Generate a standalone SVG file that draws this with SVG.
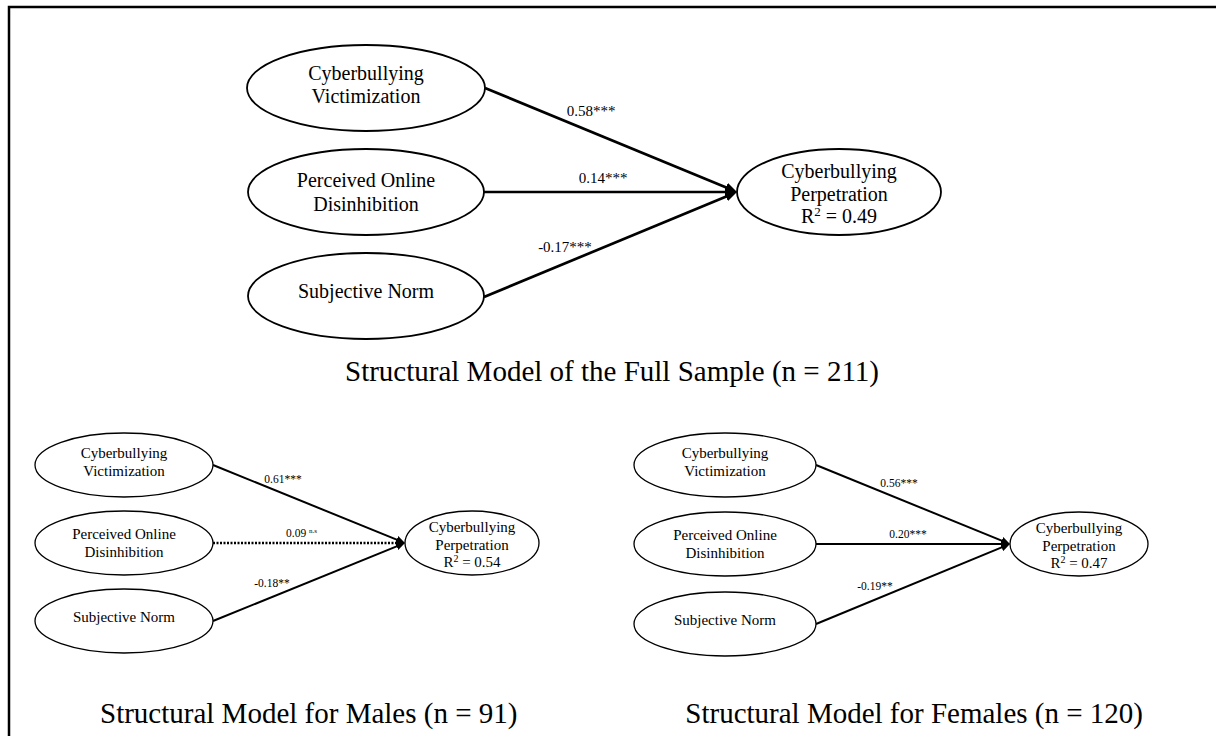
<svg xmlns="http://www.w3.org/2000/svg" width="1216" height="736" viewBox="0 0 1216 736">
<style>
text{font-family:"Liberation Serif","Times New Roman",serif;fill:#000;text-anchor:middle}
.big{fill:#fff;stroke:#000;stroke-width:1.8}
.small{fill:#fff;stroke:#000;stroke-width:1.3}
.t20{font-size:20px}
.t15{font-size:15px}
.e15{font-size:15px}
.e11{font-size:11.5px}
.cap{font-size:29px}
.lb{stroke:#000;stroke-width:2.7;fill:none}
.ls{stroke:#000;stroke-width:2;fill:none}
.dot{stroke-dasharray:2 1.5;stroke-width:2.4}
</style>
<defs>
<marker id="ab" markerUnits="userSpaceOnUse" markerWidth="12" markerHeight="10" refX="3" refY="5" orient="auto"><path d="M0,0 L12,5 L0,10 z" fill="#000"/></marker>
<marker id="as" markerUnits="userSpaceOnUse" markerWidth="9" markerHeight="8" refX="2" refY="4" orient="auto"><path d="M0,0 L9,4 L0,8 z" fill="#000"/></marker>
</defs>
<rect width="1216" height="736" fill="#fff"/>
<path d="M9,736 V7 H1216" fill="none" stroke="#000" stroke-width="2.5"/>

<g id="connectors">
<line class="lb" x1="485" y1="88" x2="728.7" y2="188.6" marker-end="url(#ab)"/>
<line class="lb" x1="484" y1="192" x2="728" y2="192" marker-end="url(#ab)"/>
<line class="lb" x1="484" y1="297" x2="728.7" y2="195.4" marker-end="url(#ab)"/>
<line class="ls" x1="213" y1="465" x2="398.5" y2="540.4" marker-end="url(#as)"/>
<line class="ls dot" x1="213" y1="543" x2="398" y2="543" marker-end="url(#as)"/>
<line class="ls" x1="213" y1="621" x2="398.5" y2="545.6" marker-end="url(#as)"/>
<line class="ls" x1="816" y1="465" x2="1003.5" y2="541.4" marker-end="url(#as)"/>
<line class="ls" x1="816" y1="544" x2="1003" y2="544" marker-end="url(#as)"/>
<line class="ls" x1="816" y1="624" x2="1003.5" y2="546.7" marker-end="url(#as)"/>
</g>

<g id="edge-labels">
<text class="e15" x="591" y="116">0.58***</text>
<text class="e15" x="603" y="183">0.14***</text>
<text class="e15" x="565" y="252">-0.17***</text>
<text class="e11" x="283" y="483">0.61***</text>
<text class="e11" x="286" y="537" style="text-anchor:start">0.09 <tspan font-size="7" dy="-4">n.s</tspan></text>
<text class="e11" x="272" y="587">-0.18**</text>
<text class="e11" x="899" y="487">0.56***</text>
<text class="e11" x="908" y="538">0.20***</text>
<text class="e11" x="875" y="590">-0.19**</text>
</g>

<g id="full-cv"><ellipse class="big" cx="366" cy="88" rx="119" ry="43"/><text class="t20" x="366" y="80">Cyberbullying</text><text class="t20" x="366" y="103">Victimization</text></g>
<g id="full-pod"><ellipse class="big" cx="366" cy="192" rx="118" ry="43"/><text class="t20" x="366" y="187">Perceived Online</text><text class="t20" x="366" y="211">Disinhibition</text></g>
<g id="full-sn"><ellipse class="big" cx="366" cy="296" rx="118" ry="43"/><text class="t20" x="366" y="298">Subjective Norm</text></g>
<g id="full-cp"><ellipse class="big" cx="839" cy="192" rx="102" ry="43"/><text class="t20" x="839" y="178">Cyberbullying</text><text class="t20" x="839" y="201">Perpetration</text><text class="t20" x="839" y="223">R<tspan font-size="13" dy="-7">2</tspan><tspan dy="7"> = 0.49</tspan></text></g>

<g id="m-cv"><ellipse class="small" cx="124" cy="465" rx="89" ry="32"/><text class="t15" x="124" y="458">Cyberbullying</text><text class="t15" x="124" y="476">Victimization</text></g>
<g id="m-pod"><ellipse class="small" cx="124" cy="543" rx="89" ry="32"/><text class="t15" x="124" y="539">Perceived Online</text><text class="t15" x="124" y="557">Disinhibition</text></g>
<g id="m-sn"><ellipse class="small" cx="124" cy="621" rx="89" ry="32"/><text class="t15" x="124" y="622">Subjective Norm</text></g>
<g id="m-cp"><ellipse class="small" cx="472" cy="543" rx="67" ry="32"/><text class="t15" x="472" y="532">Cyberbullying</text><text class="t15" x="472" y="550">Perpetration</text><text class="t15" x="472" y="567">R<tspan font-size="10" dy="-5">2</tspan><tspan dy="5"> = 0.54</tspan></text></g>

<g id="f-cv"><ellipse class="small" cx="725" cy="465" rx="91" ry="32"/><text class="t15" x="725" y="458">Cyberbullying</text><text class="t15" x="725" y="476">Victimization</text></g>
<g id="f-pod"><ellipse class="small" cx="725" cy="544" rx="91" ry="32"/><text class="t15" x="725" y="540">Perceived Online</text><text class="t15" x="725" y="558">Disinhibition</text></g>
<g id="f-sn"><ellipse class="small" cx="725" cy="624" rx="91" ry="32"/><text class="t15" x="725" y="625">Subjective Norm</text></g>
<g id="f-cp"><ellipse class="small" cx="1079" cy="544" rx="69" ry="32"/><text class="t15" x="1079" y="533">Cyberbullying</text><text class="t15" x="1079" y="551">Perpetration</text><text class="t15" x="1079" y="568">R<tspan font-size="10" dy="-5">2</tspan><tspan dy="5"> = 0.47</tspan></text></g>

<g id="captions">
<text class="cap" x="612" y="381">Structural Model of the Full Sample (n = 211)</text>
<text class="cap" x="100" y="723" style="text-anchor:start">Structural Model for Males (n = 91)</text>
<text class="cap" x="1143" y="723" style="text-anchor:end">Structural Model for Females (n = 120)</text>
</g>
</svg>
